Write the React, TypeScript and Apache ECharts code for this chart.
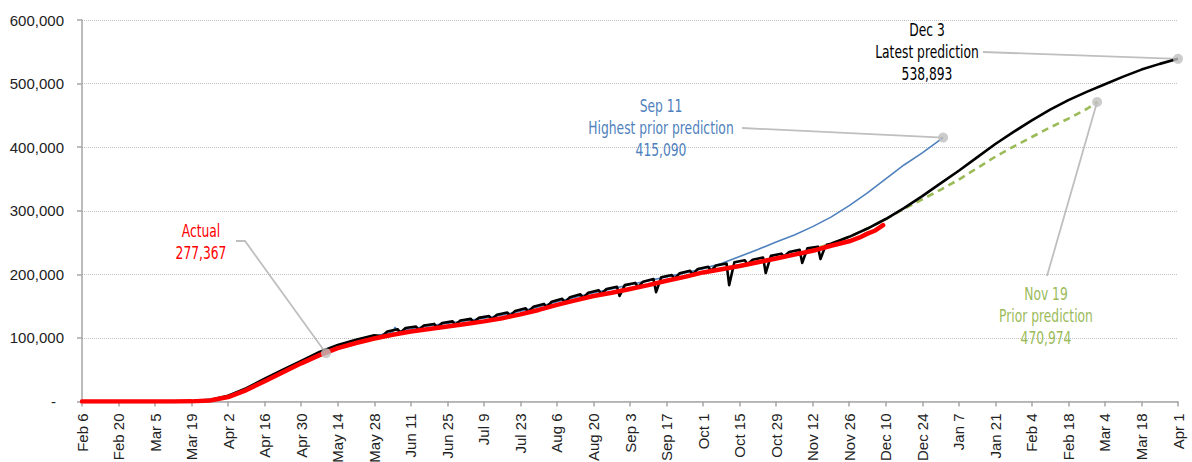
import React, { useEffect, useRef } from "react";
import * as echarts from "echarts";

// x = days since Feb 6, 2020
const xTickLabels = [
  "Feb 6", "Feb 20", "Mar 5", "Mar 19", "Apr 2", "Apr 16", "Apr 30", "May 14", "May 28",
  "Jun 11", "Jun 25", "Jul 9", "Jul 23", "Aug 6", "Aug 20", "Sep 3", "Sep 17", "Oct 1",
  "Oct 15", "Oct 29", "Nov 12", "Nov 26", "Dec 10", "Dec 24", "Jan 7", "Jan 21", "Feb 4",
  "Feb 18", "Mar 4", "Mar 18", "Apr 1",
];

const actual: [number, number][] = [
  [0, 0], [7, 0], [14, 0], [21, 0], [28, 0], [35, 50], [42, 200], [49, 1500], [56, 7000],
  [63, 18000], [70, 32000], [77, 46000], [84, 60000], [91, 73000], [98, 84000], [105, 92000],
  [112, 99000], [119, 105000], [126, 110000], [133, 114000], [140, 118000], [147, 122000],
  [154, 126000], [161, 131000], [168, 137000], [175, 144000], [182, 152000], [189, 159000],
  [196, 166000], [203, 171000], [210, 177000], [217, 183000], [224, 190000], [231, 196000],
  [238, 203000], [245, 208000], [252, 213000], [259, 219000], [266, 225000], [273, 231000],
  [280, 237000], [287, 245000], [294, 252000], [298, 258000], [301, 264000], [304, 269000],
  [307, 277367],
];

const latestHistory: [number, number][] = [
  [0, 0], [28, 0], [42, 400], [49, 2500], [56, 9000], [63, 21000], [70, 36000], [77, 50000],
  [84, 64000], [91, 78000], [98, 89000], [105, 97000], [112, 104000],
  [115, 102500], [117, 110000], [121, 113500],
  [122, 108000], [124, 115500], [128, 118000],
  [129, 112500], [131, 119500], [135, 122000],
  [136, 116500], [138, 123500], [142, 126000],
  [143, 120500], [145, 127500], [149, 130000],
  [150, 124500], [152, 131500], [156, 134500],
  [157, 129000], [159, 136500], [163, 140000],
  [164, 134500], [166, 142500], [170, 146500],
  [171, 141000], [173, 149000], [177, 153500],
  [178, 148500], [180, 157000], [184, 161500],
  [185, 156000], [187, 164000], [191, 168500],
  [192, 163000], [194, 171000], [198, 175000],
  [199, 169000], [201, 177000], [205, 180500],
  [206, 166000], [208, 183000], [212, 186500],
  [213, 180000], [215, 188500], [219, 192500],
  [220, 172000], [222, 195500], [226, 199000],
  [227, 193000], [229, 201500], [233, 205500],
  [234, 199500], [236, 208500], [240, 212000],
  [241, 205500], [243, 214000], [247, 217000],
  [248, 183000], [250, 219000], [254, 222000],
  [255, 216000], [257, 223000], [261, 226500],
  [262, 202000], [264, 229000], [268, 232500],
  [269, 228000], [271, 235000], [275, 238500],
  [276, 218000], [278, 241000], [282, 243500],
  [283, 224000], [285, 246000],
];

const latestProjection: [number, number][] = [
  [285, 246000], [287, 248000], [294, 259000], [301, 272000], [308, 287000], [315, 304000],
  [322, 323000], [329, 343000], [336, 363000], [343, 384000], [350, 405000], [357, 424000],
  [364, 442000], [371, 459000], [378, 474000], [385, 487000], [392, 499000], [399, 511000],
  [406, 522000], [413, 531000], [420, 538893],
];

const highestPrior: [number, number][] = [
  [98, 88000], [105, 96000], [112, 103000], [119, 109000], [120, 117000], [121, 110000],
  [126, 114000], [133, 119000], [140, 123000], [147, 127000], [154, 131000], [161, 136000],
  [168, 142000], [175, 149000], [182, 157000], [189, 164000], [196, 171000], [203, 177000],
  [210, 184000], [217, 190000], [224, 196000], [231, 202000], [238, 209000], [245, 217000],
  [252, 228000], [259, 239000], [266, 251000], [273, 262000], [280, 275000], [287, 290000],
  [294, 308000], [301, 328000], [308, 350000], [315, 372000], [322, 391000], [330, 415090],
];

const priorNov19: [number, number][] = [
  [278, 236000], [283, 243000], [287, 248000], [294, 259000], [301, 272000], [308, 287000],
  [315, 303000], [322, 318000], [329, 333000], [336, 349000], [343, 367000], [350, 385000],
  [357, 401000], [364, 416000], [371, 431000], [378, 445000], [385, 460000], [389, 470974],
];

const calloutPoints: [number, number][] = [
  [93.5, 76000], [330, 415090], [420, 538893], [389, 470974],
];

const NARROW = "'Liberation Sans Narrow', 'DejaVu Sans Condensed', 'Arial Narrow', sans-serif";
const AXISFONT = "'Liberation Sans', Arial, sans-serif";

export default function App() {
  const ref = useRef<HTMLDivElement>(null);
  useEffect(() => {
    if (!ref.current) return;
    const chart = echarts.init(ref.current, null, { renderer: "svg" });
    const option: any = {
      animation: false,
      backgroundColor: "#ffffff",
      grid: { left: 82, right: 14, top: 20, bottom: 60.5, outerBoundsMode: "none", containLabel: false },
      xAxis: {
        type: "value",
        min: 0,
        max: 420,
        interval: 14,
        axisLine: { lineStyle: { color: "#a6a6a6", width: 1.5 } },
        axisTick: { show: true, length: 5, lineStyle: { color: "#a6a6a6", width: 1.5 } },
        splitLine: { show: false },
        axisLabel: {
          rotate: 90,
          margin: 12,
          color: "#222222",
          fontFamily: AXISFONT,
          fontSize: 15,
          formatter: (v: number) => xTickLabels[Math.round(v / 14)] ?? "",
        },
      },
      yAxis: {
        type: "value",
        min: 0,
        max: 600000,
        interval: 100000,
        axisLine: { show: true, lineStyle: { color: "#a6a6a6", width: 1.5 } },
        axisTick: { show: true, length: 5, lineStyle: { color: "#a6a6a6", width: 1.5 } },
        splitLine: { show: true, lineStyle: { color: "#c0c0c0", type: "dotted", width: 1 } },
        axisLabel: {
          margin: 18,
          color: "#222222",
          fontFamily: AXISFONT,
          fontSize: 15,
          formatter: (v: number) => (v === 0 ? "{d|-}" : v.toLocaleString("en-US")),
          rich: {
            d: { padding: [0, 8, 0, 0], fontSize: 15, color: "#222222", fontFamily: AXISFONT },
          },
        },
      },
      series: [
        {
          name: "Sep 11 highest prior prediction",
          type: "line",
          data: highestPrior,
          showSymbol: false,
          lineStyle: { color: "#4f81bd", width: 1.6 },
          z: 2,
        },
        {
          name: "Nov 19 prior prediction",
          type: "line",
          data: priorNov19,
          showSymbol: false,
          lineStyle: { color: "#9bbb59", width: 2.6, type: [7, 5] },
          z: 3,
        },
        {
          name: "Latest prediction (history)",
          type: "line",
          data: latestHistory,
          showSymbol: false,
          lineStyle: { color: "#000000", width: 2.6, join: "round" },
          z: 4,
        },
        {
          name: "Latest prediction",
          type: "line",
          data: latestProjection,
          showSymbol: false,
          lineStyle: { color: "#000000", width: 2.6, join: "round" },
          z: 4,
        },
        {
          name: "Actual",
          type: "line",
          data: actual,
          showSymbol: false,
          lineStyle: { color: "#ff0000", width: 4.5, cap: "round", join: "round" },
          z: 5,
        },
        {
          name: "Callouts",
          type: "scatter",
          data: calloutPoints,
          symbolSize: 10,
          itemStyle: { color: "#bfbfbf" },
          z: 10,
        },
      ],
    };
    chart.setOption(option);

    const px = (p: [number, number]) => chart.convertToPixel({ gridIndex: 0 }, p) as number[];
    const pActual = px(calloutPoints[0]);
    const pHigh = px(calloutPoints[1]);
    const pLatest = px(calloutPoints[2]);
    const pPrior = px(calloutPoints[3]);
    const lead = { stroke: "#bfbfbf", lineWidth: 1.8 };
    const txt = (text: string, x: number, y: number, fill: string) => ({
      type: "text",
      x,
      y,
      scaleX: 0.76,
      z: 20,
      style: {
        text,
        fill,
        font: `18px ${NARROW}`,
        lineHeight: 22,
        align: "center",
        verticalAlign: "middle",
      },
    });
    chart.setOption({
      graphic: [
        { type: "polyline", z: 1, shape: { points: [[236, 241], [245, 241], [pActual[0], pActual[1]]] }, style: lead },
        { type: "line", z: 1, shape: { x1: 742, y1: 128, x2: pHigh[0], y2: pHigh[1] }, style: lead },
        { type: "line", z: 1, shape: { x1: 983, y1: 52, x2: pLatest[0], y2: pLatest[1] }, style: lead },
        { type: "line", z: 1, shape: { x1: 1047, y1: 276, x2: pPrior[0], y2: pPrior[1] }, style: lead },
        txt("Actual\n277,367", 201, 242, "#ff0000"),
        txt("Sep 11\nHighest prior prediction\n415,090", 661, 128, "#4f81bd"),
        txt("Dec 3\nLatest prediction\n538,893", 927, 52, "#000000"),
        txt("Nov 19\nPrior prediction\n470,974", 1046, 316, "#9bbb59"),
      ],
    });
    return () => chart.dispose();
  }, []);
  return (
    <div
      ref={ref}
      style={{ position: "fixed", left: 0, top: 0, width: 1192, height: 462 }}
    />
  );
}
